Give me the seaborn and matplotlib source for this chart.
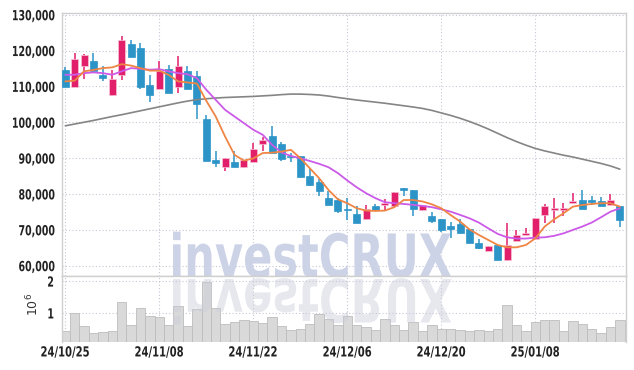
import numpy as np
import pandas as pd
import matplotlib
matplotlib.use("Agg")
import matplotlib.pyplot as plt
import seaborn as sns
from matplotlib.patheffects import AbstractPathEffect
from matplotlib.transforms import Affine2D

# trading days shown on the chart
dates = ['24/10/25', '24/10/28', '24/10/29', '24/10/30', '24/10/31', '24/11/01',
         '24/11/04', '24/11/05', '24/11/06', '24/11/07', '24/11/08', '24/11/11',
         '24/11/12', '24/11/13', '24/11/14', '24/11/15', '24/11/18', '24/11/19',
         '24/11/20', '24/11/21', '24/11/22', '24/11/25', '24/11/26', '24/11/27',
         '24/11/28', '24/11/29', '24/12/02', '24/12/03', '24/12/04', '24/12/05',
         '24/12/06', '24/12/09', '24/12/10', '24/12/11', '24/12/12', '24/12/13',
         '24/12/16', '24/12/17', '24/12/18', '24/12/19', '24/12/20', '24/12/23',
         '24/12/24', '24/12/26', '24/12/27', '24/12/30', '25/01/02', '25/01/03',
         '25/01/06', '25/01/07', '25/01/08', '25/01/09', '25/01/10', '25/01/13',
         '25/01/14', '25/01/15', '25/01/16', '25/01/17', '25/01/20', '25/01/21']
tick_labels = ['24/10/25', '24/11/08', '24/11/22', '24/12/06', '24/12/20', '25/01/08']

opens = [114500, 109700, 115600, 117200, 113100, 107500, 113100, 121900, 120700, 110400,
         109400, 114900, 109900, 114400, 113000, 101000, 89600, 87600, 89000, 87400,
         89000, 93900, 96200, 94000, 90600, 90600, 85100, 83200, 79000, 78400,
         75900, 74400, 72900, 76700, 76900, 76700, 81700, 81100, 75400, 73900,
         72900, 71100, 71600, 70100, 66200, 64200, 65800, 61600, 66900, 68600,
         67500, 74000, 75500, 75500, 77400, 78300, 78300, 77900, 76800, 76600]
highs = [115400, 119200, 119000, 119300, 115800, 114600, 124100, 123000, 122100, 113200,
         117200, 116000, 118600, 115600, 114200, 102100, 92100, 90000, 92000, 89400,
         94300, 96000, 99000, 94600, 91500, 90600, 87200, 84100, 80700, 78800,
         78800, 76500, 76900, 77200, 78500, 80600, 81700, 81100, 76900, 75000,
         72900, 72100, 72900, 70100, 67400, 65500, 65800, 71800, 69800, 70400,
         73300, 77200, 78800, 77600, 80200, 81100, 79400, 79100, 80000, 76600]
lows = [109700, 109700, 112100, 114400, 111600, 107400, 111800, 118100, 109300, 105600,
        109400, 108200, 108100, 109300, 100900, 89300, 87600, 86400, 87600, 87300,
        89000, 92100, 91500, 89300, 88800, 84600, 82100, 79300, 76900, 74800,
        72700, 72000, 72700, 75300, 75500, 76000, 79400, 73900, 75100, 71900,
        69500, 67600, 69000, 66200, 64500, 64200, 61600, 61300, 66900, 68600,
        67500, 71800, 71800, 73900, 77400, 75700, 76900, 76500, 76800, 70700]
closes = [109700, 117700, 118800, 114400, 112300, 112000, 123000, 118100, 109700, 107500,
          114200, 108200, 115800, 109300, 105200, 89300, 88500, 90000, 87600, 89400,
          92600, 95100, 91500, 89800, 90400, 84600, 82500, 80700, 76900, 75100,
          75600, 72000, 75800, 75500, 77600, 80600, 81100, 75900, 76900, 72500,
          70000, 70300, 69200, 66400, 65000, 65500, 61600, 65800, 68600, 69200,
          73300, 76500, 76000, 76000, 78100, 75900, 77700, 76500, 78300, 72600]

# volume in millions of shares
volume = [0.44, 0.99, 0.58, 0.37, 0.40, 0.44, 1.33, 0.61, 1.15, 0.90,
          0.87, 0.61, 1.21, 0.58, 1.12, 1.96, 1.15, 0.66, 0.71, 0.77,
          0.74, 0.68, 0.87, 0.58, 0.46, 0.49, 0.65, 0.97, 0.80, 0.61,
          0.90, 0.61, 0.55, 0.46, 0.80, 0.61, 0.46, 0.71, 0.43, 0.61,
          0.49, 0.49, 0.46, 0.43, 0.46, 0.43, 0.49, 1.24, 0.61, 0.43,
          0.71, 0.77, 0.77, 0.43, 0.74, 0.65, 0.49, 0.37, 0.55, 0.77]

# moving averages as drawn on the chart
ma5 = [111400, 111600, 114200, 114600, 115100, 115300, 116200, 115800, 115100, 114400,
       114400, 113200, 111400, 111100, 110800, 106000, 101600, 96000, 90900, 89300,
       89900, 91400, 91500, 91800, 92300, 90000, 87200, 84400, 81100, 78500,
       77400, 76000, 75350, 75250, 75350, 76300, 78300, 78300, 77900, 77100,
       76000, 74100, 72300, 70100, 68550, 67150, 65750, 65100, 65100, 65750,
       67600, 70900, 72900, 74600, 76450, 76900, 77200, 77400, 77400, 76450]
ma20 = [113250, 113250, 113700, 113900, 113700, 113250, 114200, 115100, 114900, 114650,
        114800, 114200, 113700, 113400, 112300, 109050, 106250, 103450, 101600, 99750,
        97900, 96500, 93700, 91550, 90600, 89950, 89200, 88400, 87450, 85800,
        83750, 81850, 80200, 78800, 77700, 77400, 77200, 76950, 76650, 76300,
        75700, 75050, 74150, 73200, 72000, 70400, 68850, 67900, 67550, 67550,
        67800, 67900, 68300, 69000, 69950, 70900, 72000, 73500, 75050, 76000]
ma60 = [99000, 99500, 100000, 100500, 101050, 101600, 102100, 102650, 103200, 103750,
        104300, 104850, 105400, 105900, 106300, 106550, 106750, 106900, 107000, 107100,
        107200, 107350, 107500, 107700, 107850, 107850, 107750, 107600, 107300, 106900,
        106550, 106200, 105900, 105600, 105300, 104950, 104600, 104250, 103850, 103300,
        102600, 101900, 101100, 100200, 99200, 98100, 96900, 95700, 94600, 93600,
        92700, 92000, 91400, 90800, 90300, 89700, 89100, 88500, 87800, 86900]

RED = '#e21f6b'
BLUE = '#2c94c7'


class Squeeze(AbstractPathEffect):
    """Draw text narrower (or mirrored), optionally re-anchored in pixels."""

    def __init__(self, sx, sy=1.0, anchor='center', x_to=None, y_to=None):
        super().__init__()
        self.sx, self.sy, self.anchor = sx, sy, anchor
        self.x_to, self.y_to = x_to, y_to

    def draw_path(self, renderer, gc, tpath, affine, rgbFace=None):
        bb = tpath.get_extents(affine)
        oy = affine.transform([[0, 0]])[0][1]
        ox = {'left': bb.x0, 'right': bb.x1}.get(self.anchor, (bb.x0 + bb.x1) / 2)
        nx = ox if self.x_to is None else self.x_to
        ny = oy if self.y_to is None else self.y_to
        t = Affine2D().translate(-ox, -oy).scale(self.sx, self.sy).translate(nx, ny)
        renderer.draw_path(gc, tpath, affine + t, rgbFace)


sns.set_style('white')
plt.rcParams['font.family'] = ['DejaVu Sans']

df = pd.DataFrame({'date': dates, 'open': opens, 'high': highs, 'low': lows,
                   'close': closes, 'vol': volume, 'ma5': ma5, 'ma20': ma20, 'ma60': ma60})
df['i'] = np.arange(len(df))
up = df['close'] >= df['open']
colors = np.where(up, RED, BLUE)

W, H = 634, 370
fig = plt.figure(figsize=(W / 100, H / 100), dpi=100)
ax = fig.add_axes([62 / W, 1 - 276 / H, 564 / W, 263 / H])
axv = fig.add_axes([62 / W, 1 - 342 / H, 564 / W, 66 / H])

grid_kw = dict(color='#c6c6d6', linestyle=(0, (1, 2)), linewidth=0.8)

# price panel
ax.set_axisbelow(True)
ax.grid(True, **grid_kw)
ax.vlines(df['i'], df['low'], df['high'], colors=colors, linewidth=1.1, zorder=2)
body_lo = df[['open', 'close']].min(axis=1)
body_h = (df['open'] - df['close']).abs().clip(lower=250)
ax.bar(df['i'], body_h, bottom=body_lo, width=0.76, color=colors,
       edgecolor=np.where(up, '#f6c3d6', BLUE), linewidth=0.5, zorder=3)
sns.lineplot(data=df, x='i', y='ma60', ax=ax, color='#858585', linewidth=1.2, zorder=4)
sns.lineplot(data=df, x='i', y='ma20', ax=ax, color='#cc5ae8', linewidth=1.3, zorder=4)
sns.lineplot(data=df, x='i', y='ma5', ax=ax, color='#ef8545', linewidth=1.3, zorder=5)

ax.set_xlim(-0.35, 59.65)
ax.set_ylim(57100, 130475)
ax.set_yticks(range(60000, 130001, 10000))
ax.set_yticklabels([f'{v:,}' for v in range(60000, 130001, 10000)])
tick_pos = [dates.index(t) for t in tick_labels]
ax.set_xticks(tick_pos)
ax.set_xticklabels([])
ax.set_xlabel('')
ax.set_ylabel('')
ax.tick_params(length=0, labelsize=10, labelcolor='#222222')
ax.tick_params(axis='y', pad=21)
for s in ax.spines.values():
    s.set_color('#cfcfcf')
    s.set_linewidth(1.0)

# volume panel
sns.barplot(data=df, x='i', y='vol', ax=axv, color='#d9d9d9', saturation=1,
            width=1.0, edgecolor='#bdbdbd', linewidth=0.6, zorder=2)
axv.set_axisbelow(True)
axv.grid(True, **grid_kw)
axv.set_xlim(-0.35, 59.65)
axv.set_ylim(0.09, 2.16)
axv.set_yticks([1, 2])
axv.set_yticklabels(['1', '2'])
axv.set_xticks(tick_pos)
axv.set_xticklabels(tick_labels)
axv.set_xlabel('')
axv.set_ylabel('')
axv.tick_params(length=0, labelsize=10, labelcolor='#222222')
axv.tick_params(axis='y', pad=5.5)
axv.tick_params(axis='x', pad=2.5)
for s in axv.spines.values():
    s.set_color('#cfcfcf')
    s.set_linewidth(1.0)
axv.spines['bottom'].set_visible(False)

fig.text(33 / W, 1 - 304 / H, r'$10^{6}$', rotation=90, ha='center', va='center',
         fontsize=9, color='#333333')

# watermark; the reflection is laid out small and scaled up/mirrored when drawn
WM_SIZE = 43
MIRROR = H - 279
wm = ax.text(172, H - 277, 'investCRUX', transform=None, fontsize=WM_SIZE,
             fontweight='bold', color='#cdd3e7', ha='left', va='baseline', zorder=1)
wm_r = axv.text(300, H - 315, 'investCRUX', transform=None, fontsize=10,
                fontweight='bold', color='#c9ccda', alpha=0.45, ha='left',
                va='baseline', zorder=6, clip_on=False)

for lab in ax.get_yticklabels():
    lab.set_fontweight('bold')
    lab.set_horizontalalignment('center')
for lab in axv.get_yticklabels():
    lab.set_fontweight('bold')

fig.canvas.draw()
renderer = fig.canvas.get_renderer()
sx = 283 / wm.get_window_extent(renderer).width
sx_r = 283 / wm_r.get_window_extent(renderer).width
wm.set_path_effects([Squeeze(sx, 1.0, 'left', x_to=173)])
wm_r.set_path_effects([Squeeze(sx_r, -WM_SIZE / 10, 'left', x_to=173, y_to=MIRROR)])
for lab in ax.get_yticklabels():
    lab.set_path_effects([Squeeze(0.68, 1.0, 'right', x_to=54.5)])
for lab in axv.get_yticklabels():
    lab.set_path_effects([Squeeze(0.68, 1.0, 'right')])
for lab in axv.get_xticklabels():
    lab.set_fontweight('bold')
    lab.set_path_effects([Squeeze(0.72, 1.0, 'center')])

fig.savefig('out.png', dpi=100)
